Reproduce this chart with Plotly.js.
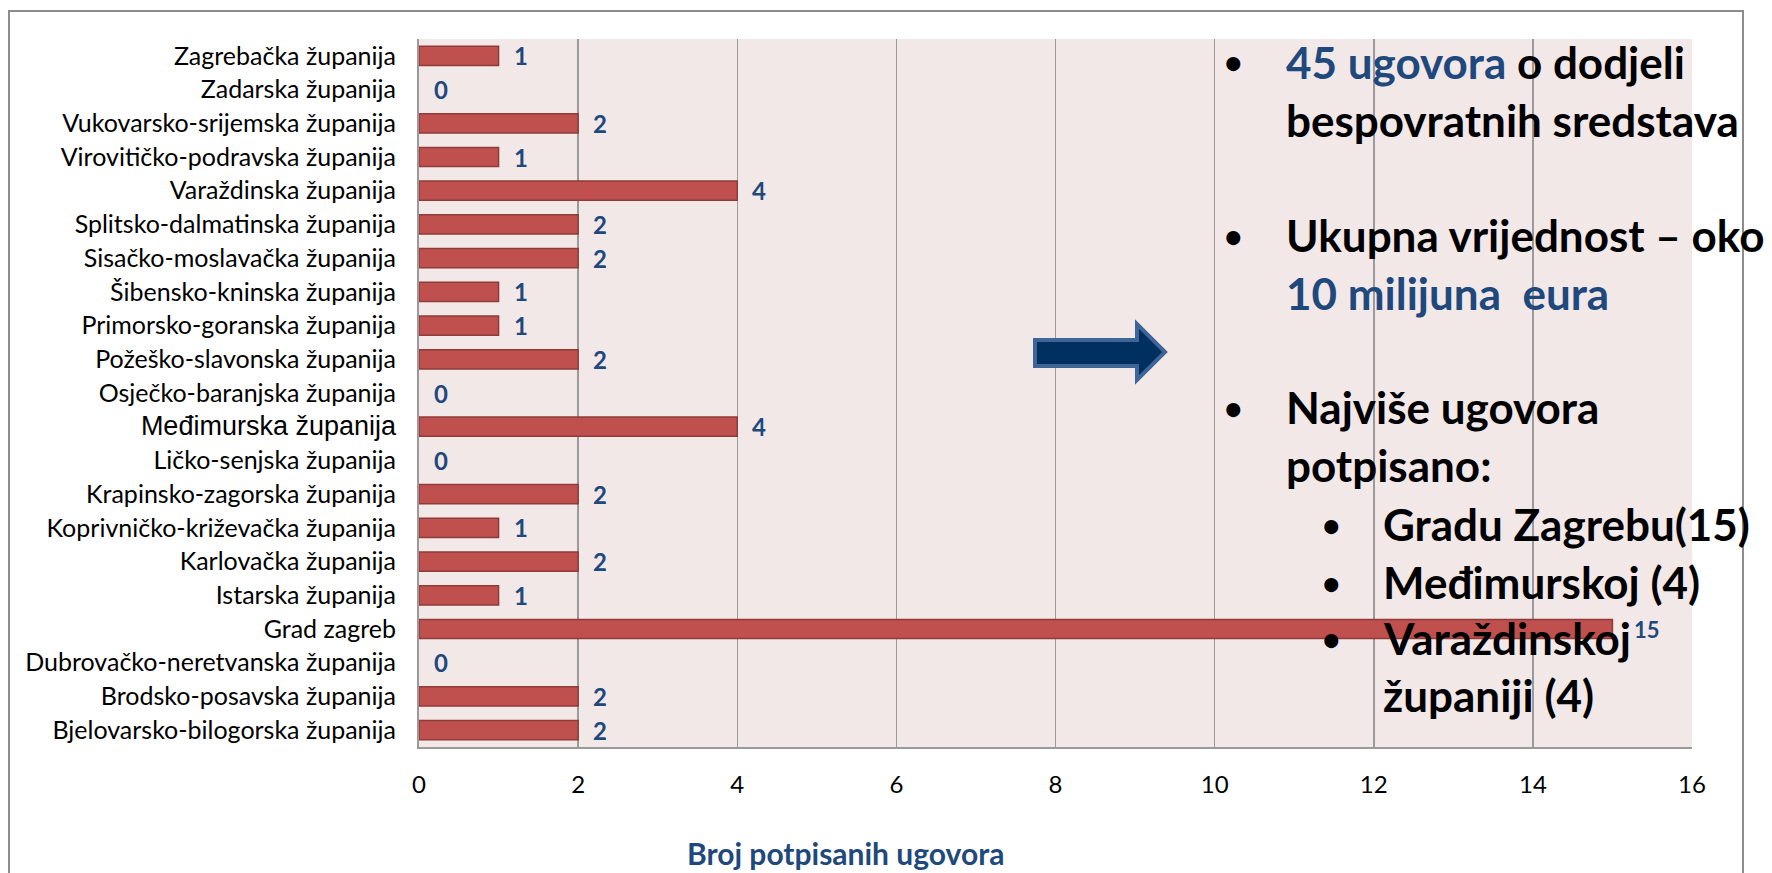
<!DOCTYPE html>
<html>
<head>
<meta charset="utf-8">
<script src="https://cdn.plot.ly/plotly-3.0.1.min.js"></script>
<style>html,body{margin:0;padding:0;background:#fff;}#chart{width:1772px;height:873px;}</style>
</head>
<body>
<div id="chart"></div>
<script>
// Categories listed bottom -> top (Plotly category axis order)
const categories = [
  "Bjelovarsko-bilogorska županija",
  "Brodsko-posavska županija",
  "Dubrovačko-neretvanska županija",
  "Grad zagreb",
  "Istarska županija",
  "Karlovačka županija",
  "Koprivničko-križevačka županija",
  "Krapinsko-zagorska županija",
  "Ličko-senjska županija",
  "Međimurska županija",
  "Osječko-baranjska županija",
  "Požeško-slavonska županija",
  "Primorsko-goranska županija",
  "Šibensko-kninska županija",
  "Sisačko-moslavačka županija",
  "Splitsko-dalmatinska županija",
  "Varaždinska županija",
  "Virovitičko-podravska županija",
  "Vukovarsko-srijemska županija",
  "Zadarska županija",
  "Zagrebačka županija"
];
const contracts = [2, 2, 0, 15, 1, 2, 1, 2, 0, 4, 0, 2, 1, 1, 2, 2, 4, 1, 2, 0, 1];
const xTickVals = [0, 2, 4, 6, 8, 10, 12, 14, 16];
const xAxisTitle = "Broj potpisanih ugovora";

const noteLines = [
  "<span style='color:#1F497D'>45 ugovora</span> o dodjeli",
  "bespovratnih sredstava",
  "Ukupna vrijednost – oko",
  "<span style='color:#1F497D'>10 milijuna&nbsp; eura</span>",
  "Najviše ugovora",
  "potpisano:",
  "Gradu Zagrebu(15)",
  "Međimurskoj (4)",
  "Varaždinskoj",
  "županiji (4)"
];
const noteLevel  = [1, 1, 1, 1, 1, 1, 2, 2, 2, 2];
const noteBullet = [true, false, true, false, true, false, true, true, true, false];

// ---- layout geometry (pixels) ----
const W = 1772, H = 873;
const L = 419, R = 1692, T = 39, B = 747;
const px = x => (x - L) / (R - L);
const py = y => (B - y) / (B - T);

const blue = "#1F497D";
const noteY = [62, 120, 235, 293, 407, 465, 524, 582, 638, 695];

const tickText = categories.map(c => c === "Međimurska županija"
  ? "<span style='font-family:Liberation Sans, Arial, sans-serif;font-size:27px'>" + c + "</span>"
  : c);

const trace = {
  type: "bar",
  orientation: "h",
  y: categories,
  x: contracts,
  width: 0.57,
  marker: {color: "#C0504D", line: {color: "#8E3B39", width: contracts.map(v => v > 0 ? 1.5 : 0)}},
  hoverinfo: "x+y"
};

const maxVal = Math.max(...contracts);
const annotations = [];
categories.forEach((c, i) => {
  const v = contracts[i];
  const small = v === maxVal;
  annotations.push({
    xref: "x", yref: "y", x: v, y: c,
    xanchor: "left", yanchor: "middle",
    xshift: small ? 20 : 13, yshift: 0,
    text: String(v), showarrow: false,
    font: {family: "Lato, sans-serif", size: small ? 22 : 24, color: blue, weight: 700}
  });
});

noteLines.forEach((t, i) => {
  const lvl = noteLevel[i];
  const bx = lvl === 1 ? 1233 : 1331;
  const tx = lvl === 1 ? 1284 : 1381;
  if (noteBullet[i]) {
    annotations.push({
      xref: "paper", yref: "paper", x: px(bx), y: py(noteY[i]),
      xanchor: "center", yanchor: "middle", showarrow: false,
      text: "•", font: {family: "Lato, sans-serif", size: 32, color: "#000", weight: 700}
    });
  }
  annotations.push({
    xref: "paper", yref: "paper", x: px(tx), y: py(noteY[i]),
    xanchor: "left", yanchor: "middle", showarrow: false,
    text: t, font: {family: "Lato, sans-serif", size: 44, color: "#000", weight: 700}
  });
});

annotations.push({
  xref: "paper", yref: "paper", x: px(845), y: py(853),
  xanchor: "center", yanchor: "middle", showarrow: false,
  text: xAxisTitle, font: {family: "Lato, sans-serif", size: 30, color: blue, weight: 700}
});

// arrow decoration (pixel outline -> paper)
const arrowPts = [[1035,340],[1137,340],[1137,324],[1165,352],[1137,380],[1137,366],[1035,366]];
const arrowPath = "M " + arrowPts.map(p => px(p[0]).toFixed(5) + "," + py(p[1]).toFixed(5)).join(" L ") + " Z";

const shapes = [
  {type: "rect", xref: "paper", yref: "paper", x0: px(9), x1: px(1743), y0: py(11), y1: py(900),
   line: {color: "#8C8C8C", width: 2}, fillcolor: "rgba(0,0,0,0)", layer: "below"},
  {type: "path", xref: "paper", yref: "paper", path: arrowPath,
   fillcolor: "#00305F", line: {color: "#3E6596", width: 4}, layer: "above"}
];

const layout = {
  width: W, height: H,
  margin: {l: L, r: W - R, t: T, b: H - B, pad: 0},
  paper_bgcolor: "#FFFFFF",
  plot_bgcolor: "#F2E8E8",
  showlegend: false,
  bargap: 0.43,
  xaxis: {
    range: [0, 16], tickvals: xTickVals, ticktext: xTickVals.map(String),
    showgrid: true, gridcolor: "#9A9A9A", gridwidth: 1.5,
    zeroline: false, showline: true, linecolor: "#9A9A9A", linewidth: 2,
    ticks: "outside", ticklen: 15, tickcolor: "rgba(0,0,0,0)",
    tickfont: {family: "Lato, sans-serif", size: 24, color: "#000"},
    fixedrange: true
  },
  yaxis: {
    type: "category", categoryorder: "array", categoryarray: categories,
    tickvals: categories, ticktext: tickText,
    showgrid: false, zeroline: false,
    showline: true, linecolor: "#9A9A9A", linewidth: 2,
    ticks: "outside", ticklen: 16, tickcolor: "rgba(0,0,0,0)",
    tickfont: {family: "Lato, sans-serif", size: 25, color: "#000"},
    fixedrange: true
  },
  annotations: annotations,
  shapes: shapes
};

Plotly.newPlot("chart", [trace], layout, {displayModeBar: false, staticPlot: true});
</script>
</body>
</html>
